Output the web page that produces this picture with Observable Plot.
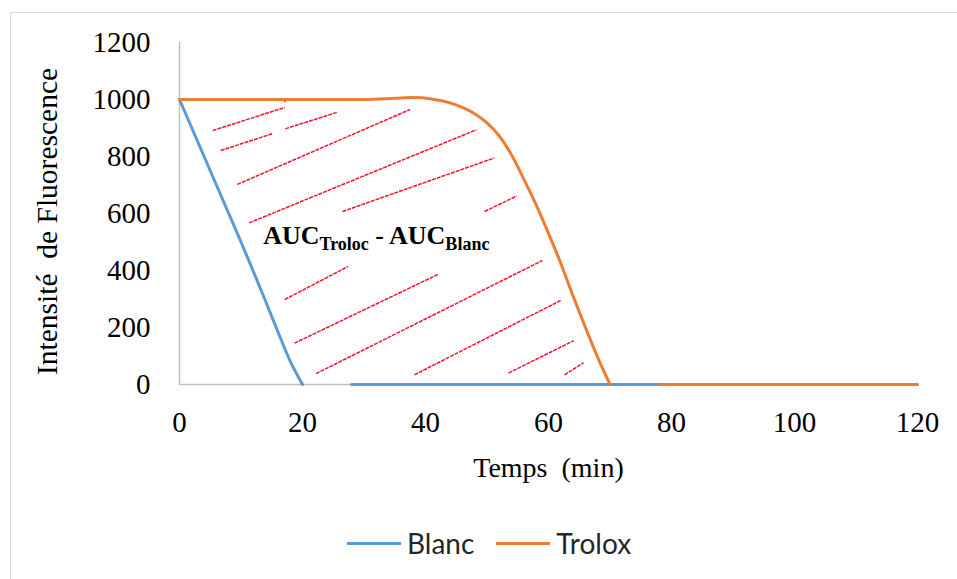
<!DOCTYPE html>
<html>
<head>
<meta charset="utf-8">
<script src="https://cdn.jsdelivr.net/npm/d3@7"></script>
<script src="https://cdn.jsdelivr.net/npm/@observablehq/plot@0.6"></script>
<style>
  html, body { margin: 0; padding: 0; background: #fff; }
  body { width: 957px; height: 579px; position: relative; overflow: hidden; }
  #frame { position: absolute; left: 10px; top: 12px; width: 960px; height: 580px; border: 1.5px solid #d9d9d9; box-sizing: border-box; }
  #chart { position: absolute; left: 11px; top: 13px; }
  #legend { position: absolute; left: 347px; top: 528px; display: flex; align-items: center; font-family: Lato, "Liberation Sans", sans-serif; font-size: 28px; color: #262626; line-height: 30px; }
  .item { display: flex; align-items: center; margin-right: 22px; }
  .swatch { width: 54px; height: 3px; margin-right: 6px; }
  svg text { white-space: pre; }
</style>
</head>
<body>
<div id="frame"></div>
<div id="chart"></div>
<div id="legend"></div>
<script>
// ---- Data ----
const seriesNames = ["Blanc", "Trolox"];
const seriesColors = ["#5b9bd5", "#ed7d31"];

const blancTime  = [0, 2, 4, 6, 8, 10, 12, 14, 16, 18, 20, 24, 28, 40, 60, 80];
const blancValue = [1000, 900, 800, 700, 600, 500, 397, 292, 185, 82, 0, null, 0, 0, 0, 0];

const troloxTime  = [0, 10, 20, 30, 35, 38, 41, 44, 46, 48, 50, 52, 54, 56, 58, 60, 62, 64, 66, 68, 70, 74, 78, 90, 100, 120];
const troloxValue = [1000, 1000, 1000, 1000, 1004, 1007, 1002, 988, 972, 950, 918, 872, 805, 720, 630, 530, 425, 310, 200, 95, 0, null, 0, 0, 0, 0];

const xTicks = [0, 20, 40, 60, 80, 100, 120];
const yTicks = [0, 200, 400, 600, 800, 1000, 1200];

const xLabel = "Temps  (min)";
const yLabel = "Intensité  de Fluorescence";

// Hatching segments (data units): [x1, y1, x2, y2]
const hatchX1 = [5.4, 17.2, 6.7, 9.4, 11.3, 26.5, 49.6, 17.1, 18.7, 22.2, 38.2, 53.5, 62.6, 17.1];
const hatchY1 = [891, 897, 821, 702, 567, 607, 607, 298, 145, 38, 34, 40, 34, 991];
const hatchX2 = [17.1, 25.6, 15.1, 37.5, 48.3, 51.2, 54.8, 27.4, 42.1, 59.0, 62.0, 64.1, 65.7, 17.2];
const hatchY2 = [972, 955, 880, 965, 894, 795, 661, 414, 387, 435, 295, 154, 76, 1000];

// Annotation
const annotX = [13.6];
const annotY = [492];
const annotParts = ["AUC", "Troloc", " - AUC", "Blanc"];
const annotSub = [false, true, false, true];

// ---- Build tables ----
const series = [];
blancTime.forEach((t, i) => series.push({s: seriesNames[0], t, v: blancValue[i]}));
troloxTime.forEach((t, i) => series.push({s: seriesNames[1], t, v: troloxValue[i]}));
const hatch = hatchX1.map((x1, i) => ({x1, y1: hatchY1[i], x2: hatchX2[i], y2: hatchY2[i]}));
const annot = annotX.map((x, i) => ({x, y: annotY[i], text: annotParts.join("")}));

const axisColor = "#bfbfbf";
const serif = "'Liberation Serif', 'Times New Roman', serif";

const plot = Plot.plot({
  width: 946,
  height: 500,
  marginLeft: 168,
  marginRight: 40,
  marginTop: 29,
  marginBottom: 129,
  style: {fontFamily: serif, fontSize: "29px", color: "#000", background: "transparent", overflow: "visible"},
  x: {domain: [0, 120], ticks: xTicks, tickFormat: d => String(d), tickSize: 0, tickPadding: 27, label: null},
  y: {domain: [0, 1200], ticks: yTicks, tickFormat: d => String(d), tickSize: 0, tickPadding: 29, label: null},
  color: {domain: seriesNames, range: seriesColors},
  marks: [
    Plot.ruleY([0], {stroke: axisColor, strokeWidth: 1.5}),
    Plot.ruleX([0], {stroke: axisColor, strokeWidth: 1.5}),
    Plot.link(hatch, {x1: "x1", y1: "y1", x2: "x2", y2: "y2", stroke: "#f8102e", strokeWidth: 1.5, strokeDasharray: "4 1"}),
    Plot.line(series.filter(d => d.s === seriesNames[0]), {x: "t", y: "v", stroke: seriesColors[0], strokeWidth: 3, curve: "monotone-x"}),
    Plot.line(series.filter(d => d.s === seriesNames[1]), {x: "t", y: "v", stroke: seriesColors[1], strokeWidth: 3, curve: "monotone-x"}),
    Plot.text(annot, {x: "x", y: "y", text: "text", textAnchor: "start", lineAnchor: "bottom", fontWeight: "bold", fontSize: 26, fill: "#000"}),
    Plot.text([xLabel], {text: d => d, frameAnchor: "bottom", textAnchor: "middle", lineAnchor: "bottom", dy: 92, fontSize: 28, fill: "#000"}),
    Plot.text([yLabel], {text: d => d, frameAnchor: "left", textAnchor: "middle", rotate: -90, lineAnchor: "middle", dx: -132, dy: 8, fontSize: 29.5, fill: "#000"})
  ]
});
document.getElementById("chart").appendChild(plot);

// Subscripts for the annotation
plot.querySelectorAll("text").forEach(el => {
  if (el.textContent === annotParts.join("")) {
    el.textContent = "";
    annotParts.forEach((p, i) => {
      const ts = document.createElementNS("http://www.w3.org/2000/svg", "tspan");
      ts.textContent = p;
      if (annotSub[i]) { ts.setAttribute("font-size", "18"); ts.setAttribute("dy", "6"); }
      else if (i > 0 && annotSub[i - 1]) { ts.setAttribute("dy", "-6"); }
      el.appendChild(ts);
    });
  }
});

// Legend
const legend = d3.select("#legend");
seriesNames.forEach((name, i) => {
  const item = legend.append("div").attr("class", "item");
  item.append("div").attr("class", "swatch").style("background", seriesColors[i]);
  item.append("span").text(name);
});
</script>
</body>
</html>
